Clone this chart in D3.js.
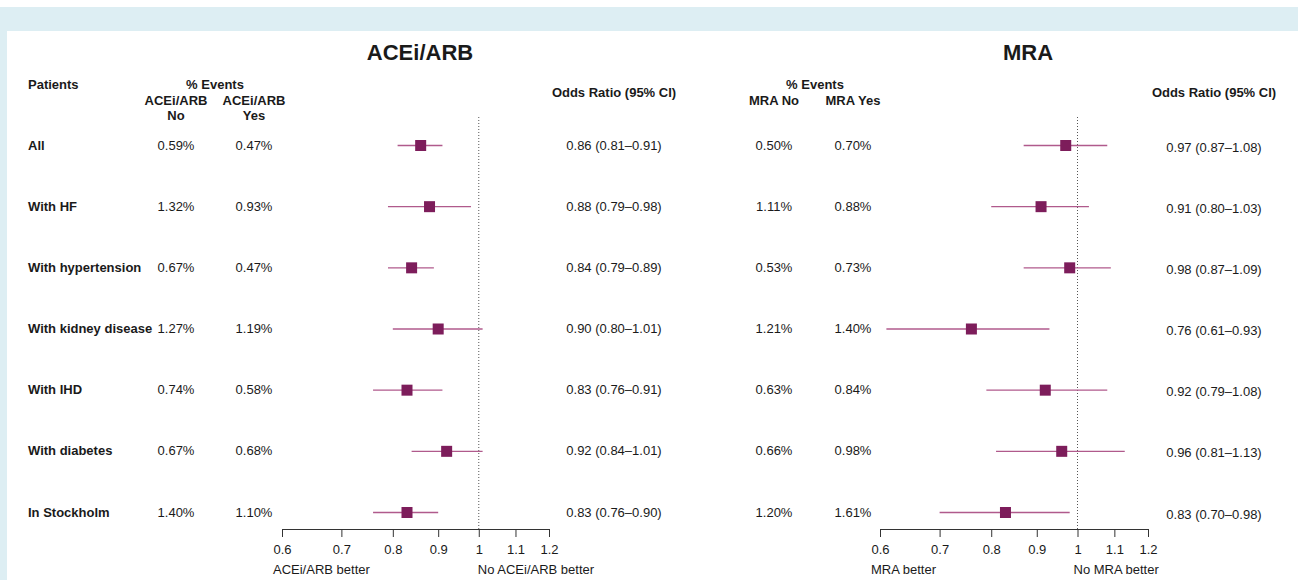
<!DOCTYPE html>
<html>
<head>
<meta charset="utf-8">
<script src="https://cdn.jsdelivr.net/npm/d3@7"></script>
<style>
  html, body { margin: 0; padding: 0; background: #fff; }
  svg { display: block; font-family: "Liberation Sans", Arial, Helvetica, sans-serif; }
</style>
</head>
<body>
<svg id="chart" width="1298" height="580"></svg>
<script>
// Subgroups shown on every row
const patients = ["All", "With HF", "With hypertension", "With kidney disease", "With IHD", "With diabetes", "In Stockholm"];

// ACEi/ARB: event rates (%) and odds ratios with 95% CI
const aceNo  = [0.59, 1.32, 0.67, 1.27, 0.74, 0.67, 1.40];
const aceYes = [0.47, 0.93, 0.47, 1.19, 0.58, 0.68, 1.10];
const aceOR  = [0.86, 0.88, 0.84, 0.90, 0.83, 0.92, 0.83];
const aceLo  = [0.81, 0.79, 0.79, 0.80, 0.76, 0.84, 0.76];
const aceHi  = [0.91, 0.98, 0.89, 1.01, 0.91, 1.01, 0.90];

// MRA: event rates (%) and odds ratios with 95% CI
const mraNo  = [0.50, 1.11, 0.53, 1.21, 0.63, 0.66, 1.20];
const mraYes = [0.70, 0.88, 0.73, 1.40, 0.84, 0.98, 1.61];
const mraOR  = [0.97, 0.91, 0.98, 0.76, 0.92, 0.96, 0.83];
const mraLo  = [0.87, 0.80, 0.87, 0.61, 0.79, 0.81, 0.70];
const mraHi  = [1.08, 1.03, 1.09, 0.93, 1.08, 1.13, 0.98];

// Axis ticks (odds ratio, log scale)
const orTicks = [0.6, 0.7, 0.8, 0.9, 1, 1.1, 1.2];

const svg = d3.select("#chart");
const W = 1298, H = 580;

// Frame: light blue band on top and left edge
const frameBlue = "#ddeef3";
svg.append("rect").attr("x", 0).attr("y", 7).attr("width", W).attr("height", 24).attr("fill", frameBlue);
svg.append("rect").attr("x", 0).attr("y", 7).attr("width", 7).attr("height", H - 7).attr("fill", frameBlue);

const boxColor = "#7d1d5b";
const ciColor = "#b05a8c";
const textColor = "#1a1a1a";
const fs = 13;

const y = d3.scalePoint().domain(d3.range(patients.length)).range([145, 512]);

const fmtPct = v => v.toFixed(2) + "%";
const fmtOR = (o, l, h) => `${o.toFixed(2)} (${l.toFixed(2)}\u2013${h.toFixed(2)})`;

function txt(g, x, yy, s, opts = {}) {
  return g.append("text")
    .attr("x", x).attr("y", yy)
    .attr("text-anchor", opts.anchor || "middle")
    .attr("font-size", opts.size || fs)
    .attr("font-weight", opts.bold ? "bold" : "normal")
    .attr("fill", textColor)
    .text(s);
}

// Row labels (left block only)
const labels = svg.append("g");
patients.forEach((p, i) => txt(labels, 28, y(i) + 4.5, p, { anchor: "start", bold: true }));
txt(labels, 28, 89, "Patients", { anchor: "start", bold: true });

function panel(cfg) {
  const g = svg.append("g");
  const x = d3.scaleLog().domain([0.6, 1.2]).range(cfg.range);

  // Title
  txt(g, cfg.titleX, 60, cfg.title, { size: 22, bold: true });

  // Column headers
  txt(g, cfg.evX, 89, "% Events", { bold: true });
  cfg.noHead.forEach((s, k) => txt(g, cfg.noX, 104.5 + k * 15, s, { bold: true }));
  cfg.yesHead.forEach((s, k) => txt(g, cfg.yesX, 104.5 + k * 15, s, { bold: true }));
  txt(g, cfg.orX, 96.5, "Odds Ratio (95% CI)", { bold: true });

  // Event rates and OR text
  cfg.no.forEach((v, i) => txt(g, cfg.noX, y(i) + 4.5, fmtPct(v)));
  cfg.yes.forEach((v, i) => txt(g, cfg.yesX, y(i) + 4.5, fmtPct(v)));
  cfg.or.forEach((v, i) => txt(g, cfg.orX, y(i) + 4.5 + cfg.orDy, fmtOR(v, cfg.lo[i], cfg.hi[i])));

  // Reference line at OR = 1
  g.append("line")
    .attr("x1", x(1)).attr("x2", x(1))
    .attr("y1", 117).attr("y2", 529)
    .attr("stroke", "#555").attr("stroke-width", 1)
    .attr("stroke-dasharray", "1,2");

  // Confidence intervals
  g.selectAll(".ci").data(cfg.or).join("line")
    .attr("x1", (d, i) => x(cfg.lo[i])).attr("x2", (d, i) => x(cfg.hi[i]))
    .attr("y1", (d, i) => y(i) + 0.5).attr("y2", (d, i) => y(i) + 0.5)
    .attr("stroke", ciColor).attr("stroke-width", 1.4);

  // Point estimates
  const s = 11;
  g.selectAll(".box").data(cfg.or).join("rect")
    .attr("x", d => x(d) - s / 2).attr("y", (d, i) => y(i) - s / 2 + 0.5)
    .attr("width", s).attr("height", s)
    .attr("fill", boxColor);

  // Axis
  const axis = d3.axisBottom(x).tickValues(orTicks).tickFormat(d3.format("")).tickSize(8).tickSizeOuter(0);
  const ag = g.append("g").attr("transform", "translate(0,529)").call(axis);
  ag.select(".domain").attr("stroke", "#333");
  ag.selectAll(".tick line").attr("stroke", "#333");
  ag.selectAll(".tick text").attr("font-size", 13).attr("fill", textColor)
    .attr("font-family", "Liberation Sans, Arial, sans-serif").attr("dy", "1.05em");

  txt(g, cfg.range[0] - 9, 574, cfg.betterL, { anchor: "start", size: 13 });
  txt(g, x(1) + cfg.betterRdx, 574, cfg.betterR, { anchor: "start", size: 13 });
}

panel({
  title: "ACEi/ARB", titleX: 420,
  range: [282, 549],
  evX: 215, noX: 176, yesX: 254, orX: 614, orDy: 0,
  noHead: ["ACEi/ARB", "No"], yesHead: ["ACEi/ARB", "Yes"],
  no: aceNo, yes: aceYes, or: aceOR, lo: aceLo, hi: aceHi,
  betterL: "ACEi/ARB better", betterR: "No ACEi/ARB better", betterRdx: -1
});

panel({
  title: "MRA", titleX: 1028,
  range: [880, 1148],
  evX: 815, noX: 774, yesX: 853, orX: 1214, orDy: 2,
  noHead: ["MRA No"], yesHead: ["MRA Yes"],
  no: mraNo, yes: mraYes, or: mraOR, lo: mraLo, hi: mraHi,
  betterL: "MRA better", betterR: "No MRA better", betterRdx: -4
});
</script>
</body>
</html>
